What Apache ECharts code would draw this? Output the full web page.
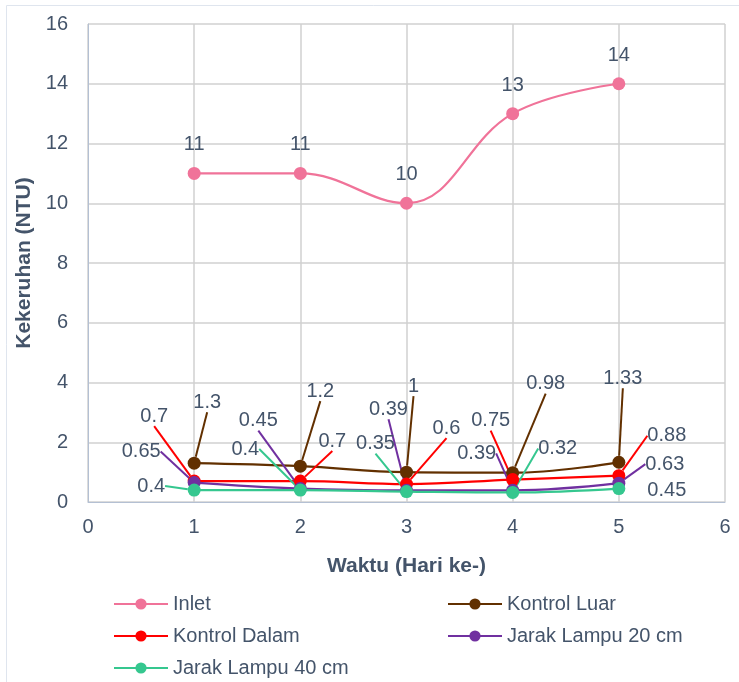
<!DOCTYPE html>
<html>
<head>
<meta charset="utf-8">
<script src="https://cdn.jsdelivr.net/npm/echarts@6/dist/echarts.min.js"></script>
<style>html,body{margin:0;padding:0;background:#fff}#c{width:739px;height:682px}</style>
</head>
<body>
<div id="c"></div>
<script>
// ---- data ----
const days = [1, 2, 3, 4, 5];
const inlet = [11, 11, 10, 13, 14];
const kontrolLuar = [1.3, 1.2, 1, 0.98, 1.33];
const kontrolDalam = [0.7, 0.7, 0.6, 0.75, 0.88];
const jarak20 = [0.65, 0.45, 0.39, 0.39, 0.63];
const jarak40 = [0.4, 0.4, 0.35, 0.32, 0.45];
const seriesNames = ['Inlet', 'Kontrol Luar', 'Kontrol Dalam', 'Jarak Lampu 20 cm', 'Jarak Lampu 40 cm'];
const xTicks = [0, 1, 2, 3, 4, 5, 6];
const yTicks = [0, 2, 4, 6, 8, 10, 12, 14, 16];

// ---- label offsets (layout only) ----
const offLuar = [[13,-61],[20,-75],[7,-86],[33,-89],[4,-84]];
const offDalam = [[-40,-65],[32,-40],[40,-56],[-22,-59],[48,-40]];
const off20 = [[-53,-31],[-42,-68],[-18,-81],[-36,-37],[46,-19]];
const off40 = [[-43,-4],[-55,-41],[-31,-48],[45,-44],[48,2]];

const colors = ['#f07399', '#623000', '#ff0000', '#7030a0', '#35c78f'];
const txt = '#44546a';
const font = '"Liberation Sans", Arial, sans-serif';
const fs = 20;

function pairs(vals) { return days.map((d, i) => [d, vals[i]]); }

function offSeries(name, vals, offs, color, hideLine) {
  return {
    name: name, type: 'line', smooth: 0.4,
    data: pairs(vals).map((p, i) => {
      const o = { value: p };
      if (hideLine && hideLine.indexOf(i) >= 0) o.labelLine = { show: false };
      return o;
    }),
    symbol: 'circle', symbolSize: 13,
    lineStyle: { width: 2.25, color: color },
    itemStyle: { color: color },
    label: { show: true, position: 'inside', color: txt, fontSize: fs, fontFamily: font,
      formatter: p => String(p.value[1]) },
    labelLine: { show: true, lineStyle: { color: color, width: 2 } },
    labelLayout: function (params) {
      const o = offs[params.dataIndex];
      return { dx: o[0], dy: o[1] };
    },
    emphasis: { disabled: true }
  };
}

const legendPos = [[113, 593], [447, 593], [113, 625], [447, 625], [113, 657]];
const legends = seriesNames.map((n, i) => ({
  left: legendPos[i][0], top: legendPos[i][1], itemWidth: 54, itemHeight: 14, padding: 0,
  data: [n], textStyle: { color: txt, fontSize: fs, fontFamily: font, lineHeight: 22 }
}));

const chart = echarts.init(document.getElementById('c'));
chart.setOption({
  animation: false,
  textStyle: { fontFamily: font },
  graphic: [{ type: 'rect', shape: { x: 6.5, y: 5.5, width: 760, height: 700 },
    style: { fill: 'none', stroke: '#dfe5ee', lineWidth: 1 }, silent: true }],
  grid: { left: 88, right: 14, top: 24, bottom: 180 },
  xAxis: {
    type: 'value', min: 0, max: 6, interval: 1,
    name: 'Waktu (Hari ke-)', nameLocation: 'middle', nameGap: 54,
    nameTextStyle: { color: txt, fontSize: 21, fontWeight: 'bold', fontFamily: font },
    axisLine: { show: true, lineStyle: { color: '#b4c0d3', width: 1 } },
    axisTick: { show: false },
    axisLabel: { color: txt, fontSize: fs, margin: 15, fontFamily: font,
      formatter: v => xTicks.indexOf(v) >= 0 ? String(v) : '' },
    splitLine: { show: true, lineStyle: { color: '#d0d0d0', width: 1.5 } }
  },
  yAxis: {
    type: 'value', min: 0, max: 16, interval: 2,
    name: 'Kekeruhan (NTU)', nameLocation: 'middle', nameGap: 51,
    nameTextStyle: { color: txt, fontSize: 21, fontWeight: 'bold', fontFamily: font },
    axisLine: { show: true, lineStyle: { color: '#b4c0d3', width: 1 } },
    axisTick: { show: false },
    axisLabel: { color: txt, fontSize: fs, margin: 20, fontFamily: font,
      formatter: v => yTicks.indexOf(v) >= 0 ? String(v) : '' },
    splitLine: { show: true, lineStyle: { color: '#d0d0d0', width: 1.5 } }
  },
  legend: legends,
  series: [
    {
      name: seriesNames[0], type: 'line', smooth: 0.4, data: pairs(inlet),
      symbol: 'circle', symbolSize: 13,
      lineStyle: { width: 2.25, color: colors[0] }, itemStyle: { color: colors[0] },
      label: { show: true, position: 'top', distance: 12, color: txt, fontSize: fs, fontFamily: font,
        formatter: p => String(p.value[1]) },
      emphasis: { disabled: true }
    },
    offSeries(seriesNames[1], kontrolLuar, offLuar, colors[1]),
    offSeries(seriesNames[2], kontrolDalam, offDalam, colors[2]),
    offSeries(seriesNames[3], jarak20, off20, colors[3]),
    offSeries(seriesNames[4], jarak40, off40, colors[4], [4])
  ]
});
</script>
</body>
</html>
